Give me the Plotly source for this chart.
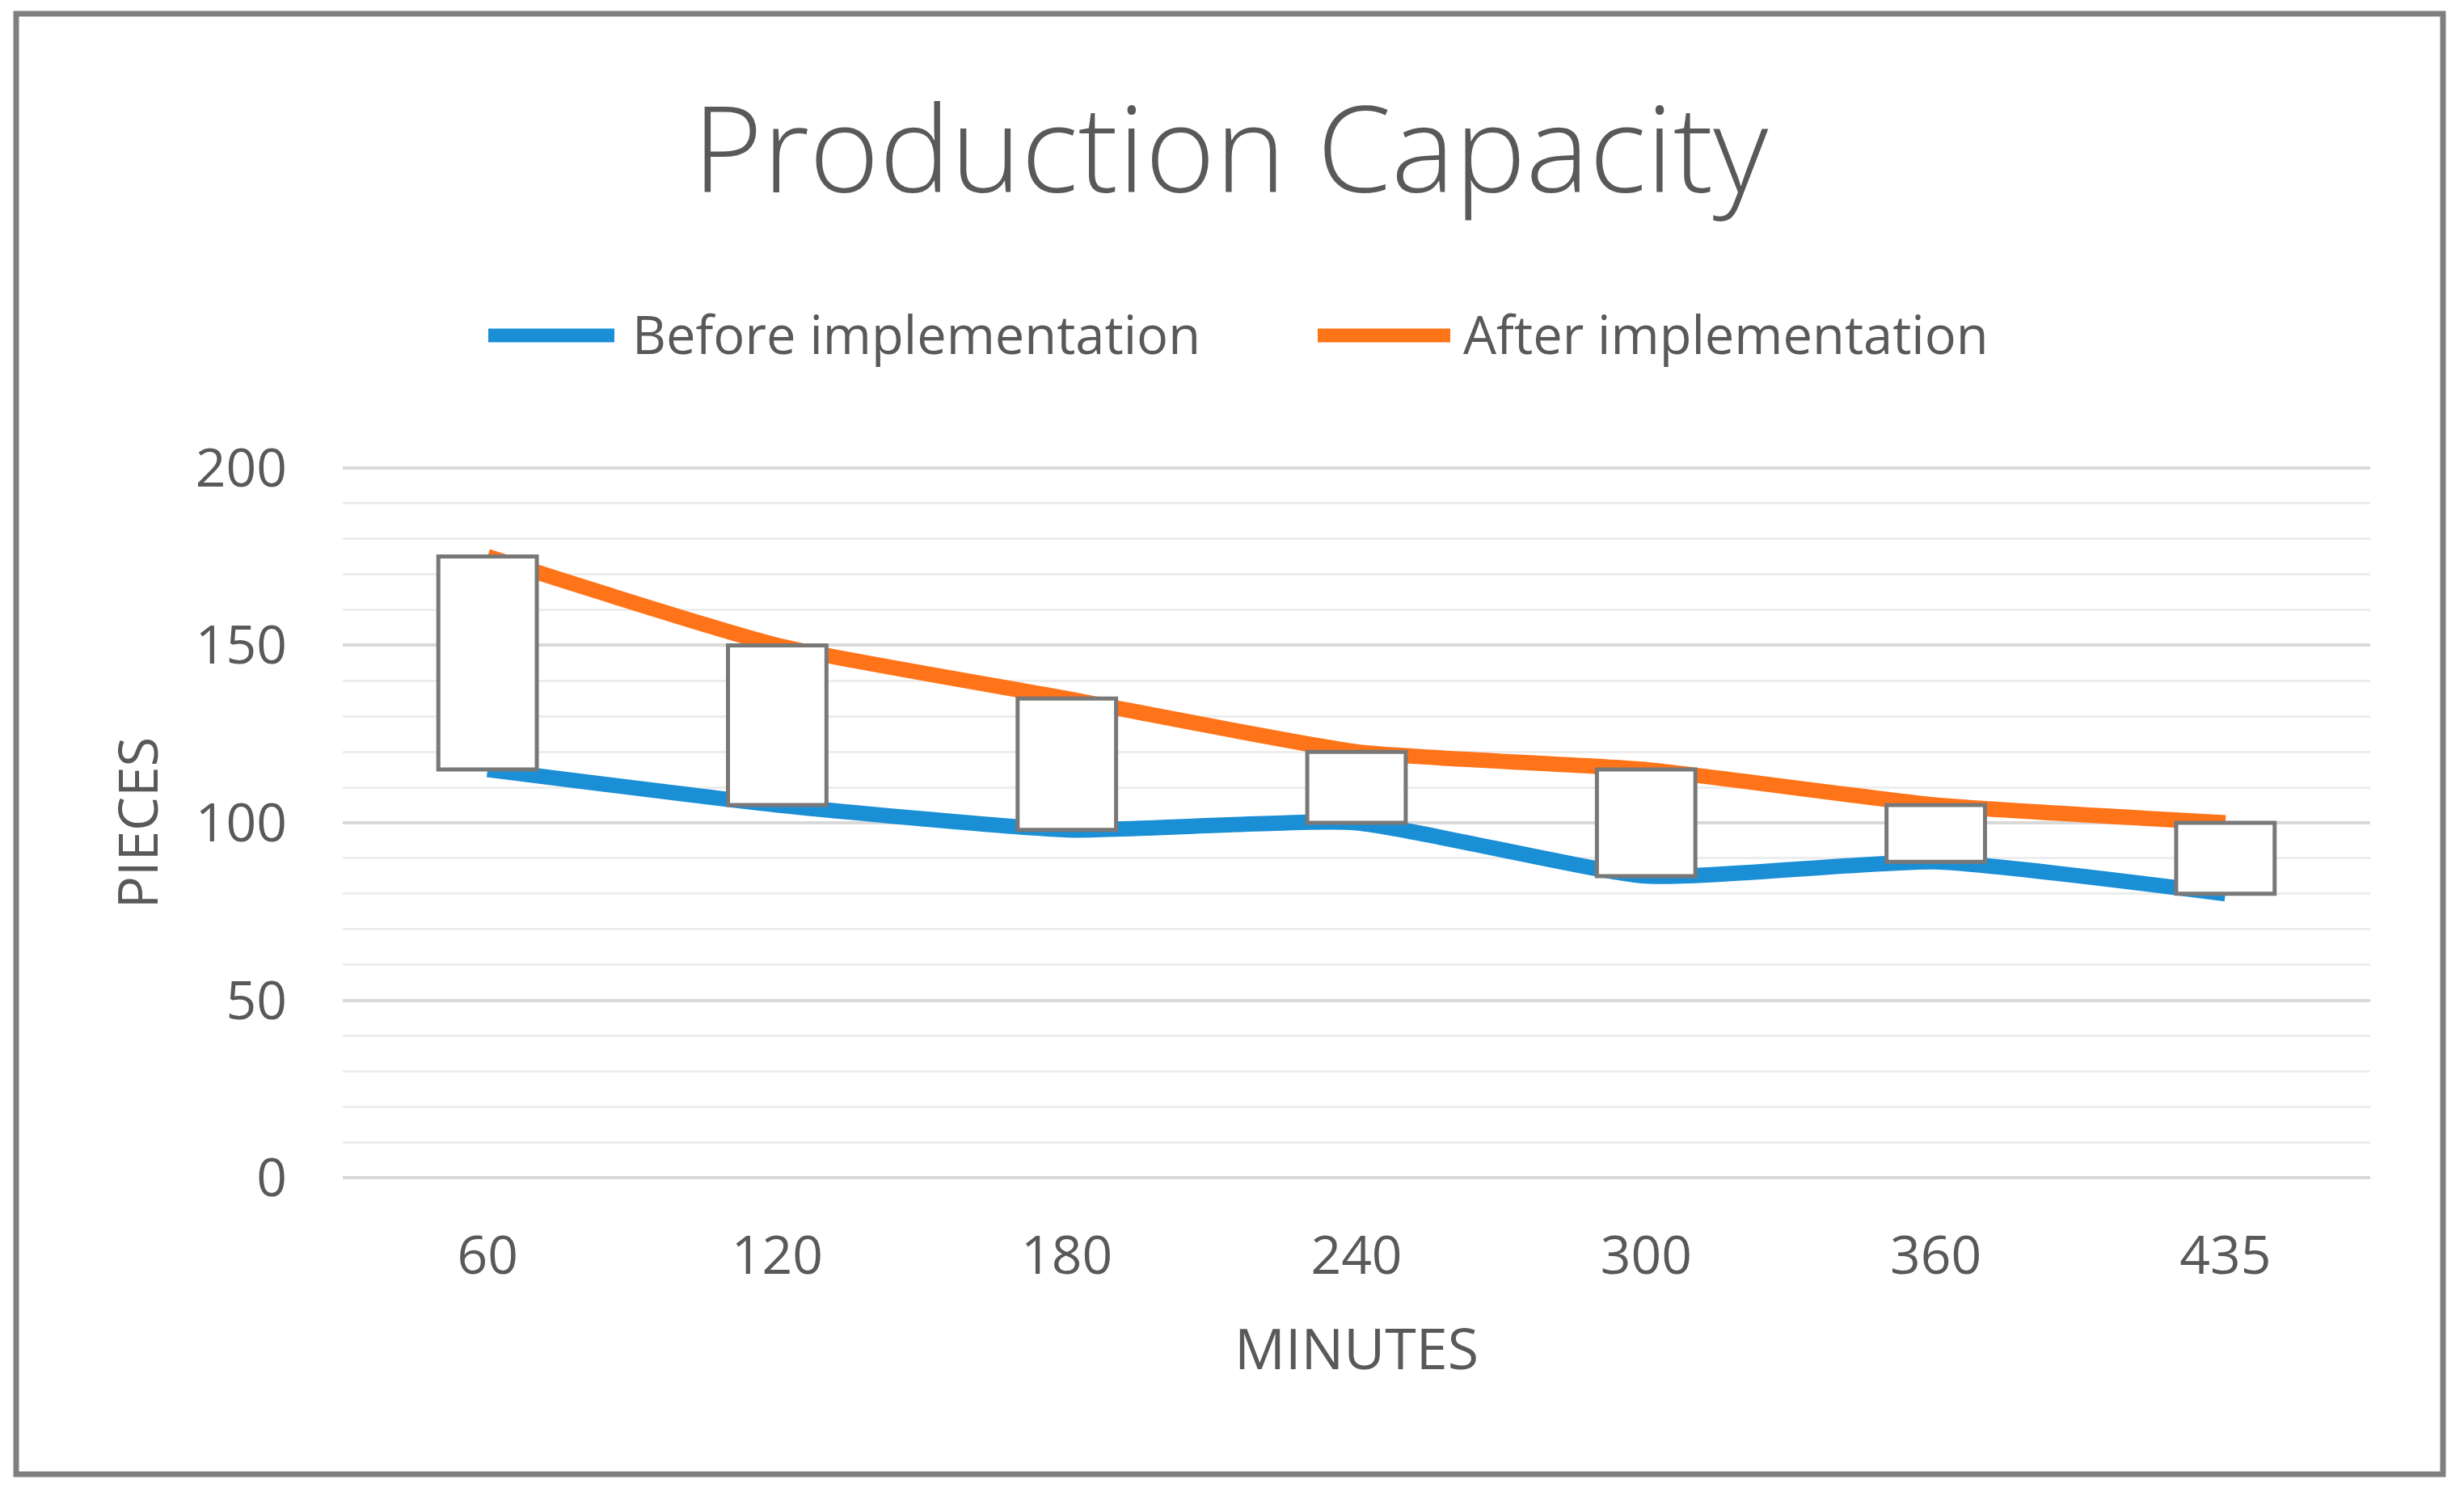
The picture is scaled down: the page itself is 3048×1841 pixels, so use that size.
import plotly.graph_objects as go

# ---- data ----
minutes = ["60", "120", "180", "240", "300", "360", "435"]
before_impl = [115, 105, 98, 100, 85, 89, 80]
after_impl = [175, 150, 135, 120, 115, 105, 100]
y_ticks = [0, 50, 100, 150, 200]

# page body has an 8px margin: work in screen coordinates and shift
OFF = 8
SW, SH = 3048, 1841
W, H = SW - 2 * OFF, SH - 2 * OFF
PL, PR, PT, PB = 424, 2932, 577, 1459          # plot area in screen px
ML, MT = PL - OFF, PT - OFF
MR, MB = W - (PR - OFF), H - (PB - OFF)
PW, PH = PR - PL, PB - PT


def px(x):
    return (x - PL) / PW


def py(y):
    return (PB - y) / PH


GRAY_TXT = "#595959"
FONT = "Open Sans"
BLUE = "#1b8fd6"
ORANGE = "#ff7419"

fig = go.Figure()

fig.add_trace(go.Scatter(
    x=minutes, y=before_impl, name="Before implementation", mode="lines",
    line=dict(color=BLUE, width=19, shape="spline", smoothing=0.5),
    showlegend=False, xaxis="x", yaxis="y",
))
fig.add_trace(go.Scatter(
    x=minutes, y=after_impl, name="After implementation", mode="lines",
    line=dict(color=ORANGE, width=19, shape="spline", smoothing=0.5),
    showlegend=False, xaxis="x", yaxis="y",
))

# up-down bars (drawn on overlaying axes so they sit above the lines)
diff = [a - b for a, b in zip(after_impl, before_impl)]
fig.add_trace(go.Bar(
    x=minutes, y=diff, base=before_impl, name="Up bars",
    marker=dict(color="white", line=dict(color="#787878", width=5)),
    width=0.34, showlegend=False, xaxis="x2", yaxis="y2",
))

axis_font = dict(family=FONT, size=66, color=GRAY_TXT)
YR = [-0.4, 200.4]

fig.update_layout(
    width=W, height=H,
    margin=dict(l=ML, r=MR, t=MT, b=MB, pad=0),
    paper_bgcolor="white", plot_bgcolor="white",
    title=dict(
        text="Production Capacity", x=(1522 - OFF) / W, xref="container", xanchor="center",
        y=1 - (186 - OFF) / H, yref="container", yanchor="middle",
        font=dict(family=FONT, size=148, color=GRAY_TXT, weight=300),
    ),
    xaxis=dict(
        type="category", categoryorder="array", categoryarray=minutes,
        range=[-0.5, 6.5], showgrid=False, zeroline=False, showline=False,
        ticks="", tickfont=axis_font, ticklabelstandoff=50,
        title=dict(text="MINUTES", font=dict(family=FONT, size=70, color=GRAY_TXT), standoff=50),
    ),
    yaxis=dict(
        range=YR, tickvals=y_ticks, showgrid=True, gridcolor="#d9d9d9", gridwidth=4,
        zeroline=False, showline=False, ticks="", tickfont=axis_font, ticklabelstandoff=68,
        minor=dict(dtick=10, showgrid=True, gridcolor="#ededed", gridwidth=3),
        title=dict(text="PIECES", font=dict(family=FONT, size=67, color=GRAY_TXT), standoff=24),
    ),
    xaxis2=dict(
        type="category", categoryorder="array", categoryarray=minutes,
        range=[-0.5, 6.5], overlaying="x", visible=False,
    ),
    yaxis2=dict(range=YR, overlaying="y", visible=False),
    showlegend=False,
)

# outer frame
fig.add_shape(type="rect", xref="paper", yref="paper",
              x0=px(20), x1=px(3022), y0=py(1824), y1=py(17),
              line=dict(color="#7f7f7f", width=7), fillcolor="rgba(0,0,0,0)", layer="below")

# legend (manual, Excel-like long line keys)
legend_items = [
    ("Before implementation", BLUE, 604, 760, 780),
    ("After implementation", ORANGE, 1630, 1794, 1808),
]
for label, col, lx0, lx1, tx in legend_items:
    fig.add_shape(type="line", xref="paper", yref="paper",
                  x0=px(lx0), x1=px(lx1), y0=py(415), y1=py(415),
                  line=dict(color=col, width=17))
    fig.add_annotation(text=label, xref="paper", yref="paper", x=px(tx), y=py(413),
                       xanchor="left", yanchor="middle", showarrow=False,
                       font=dict(family=FONT, size=65, color=GRAY_TXT))

fig.write_html("out.html")
